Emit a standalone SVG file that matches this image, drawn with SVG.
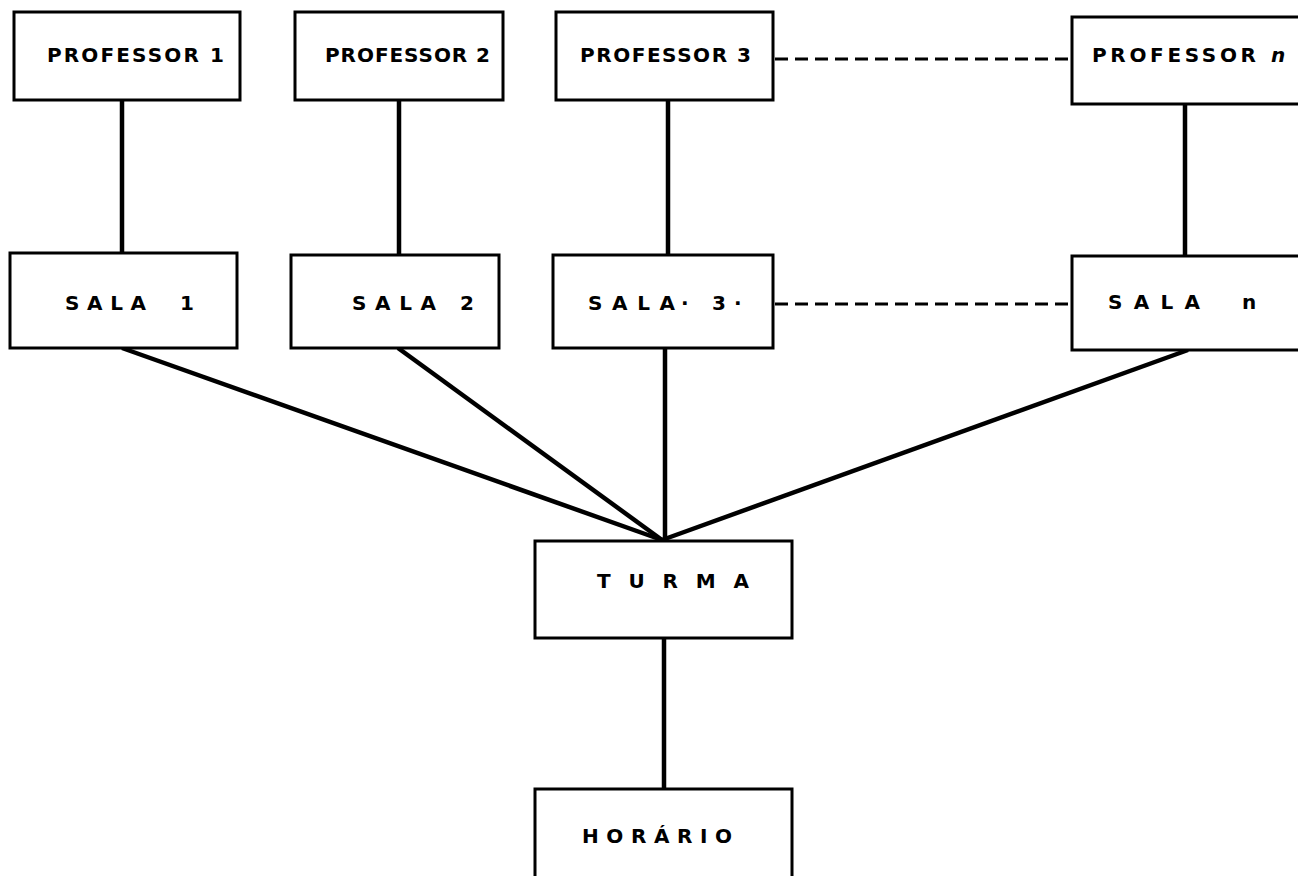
<svg xmlns="http://www.w3.org/2000/svg" width="1298" height="876" viewBox="0 0 1298 876">
<style>
.box{fill:#fff;stroke:#000;stroke-width:3}
.t{font-family:"DejaVu Sans","Liberation Sans",Arial,sans-serif;font-weight:bold;font-size:20px;fill:#000}
.c{stroke:#000;stroke-width:4.5;fill:none}
.d{stroke:#000;stroke-width:3;stroke-dasharray:13 7;fill:none}
</style>
<rect width="1298" height="876" fill="#fff"/>
<g id="connectors">
<line class="c" x1="122" y1="100" x2="122" y2="253"/>
<line class="c" x1="399" y1="100" x2="399" y2="255"/>
<line class="c" x1="668" y1="100" x2="668" y2="255"/>
<line class="c" x1="1185" y1="104" x2="1185" y2="256"/>
<line class="c" x1="122" y1="348" x2="662" y2="540"/>
<line class="c" x1="398" y1="348" x2="662" y2="540"/>
<line class="c" x1="665" y1="348" x2="665" y2="540"/>
<line class="c" x1="1188" y1="350" x2="662" y2="540"/>
<line class="c" x1="664" y1="638" x2="664" y2="789"/>
<line class="d" x1="775" y1="59" x2="1072" y2="59"/>
<line class="d" x1="775" y1="304" x2="1072" y2="304"/>
</g>
<g id="prof1"><rect class="box" x="14" y="12" width="226" height="88"/><text class="t" x="47" y="62" textLength="177" lengthAdjust="spacing">PROFESSOR 1</text></g>
<g id="prof2"><rect class="box" x="295" y="12" width="208" height="88"/><text class="t" x="325" y="62" textLength="165" lengthAdjust="spacing">PROFESSOR 2</text></g>
<g id="prof3"><rect class="box" x="556" y="12" width="217" height="88"/><text class="t" x="580" y="62" textLength="171" lengthAdjust="spacing">PROFESSOR 3</text></g>
<g id="profn"><rect class="box" x="1072" y="17" width="240" height="87"/><text class="t" y="62"><tspan x="1092" textLength="164" lengthAdjust="spacing">PROFESSOR</tspan><tspan x="1271" font-style="italic">n</tspan></text></g>
<g id="sala1"><rect class="box" x="10" y="253" width="227" height="95"/><text class="t" y="310"><tspan x="65" textLength="81" lengthAdjust="spacing">SALA</tspan><tspan x="180">1</tspan></text></g>
<g id="sala2"><rect class="box" x="291" y="255" width="208" height="93"/><text class="t" y="310"><tspan x="352" textLength="84" lengthAdjust="spacing">SALA</tspan><tspan x="460">2</tspan></text></g>
<g id="sala3"><rect class="box" x="553" y="255" width="220" height="93"/><text class="t" y="310"><tspan x="588" textLength="87" lengthAdjust="spacing">SALA</tspan><tspan x="681">·</tspan><tspan x="712">3</tspan><tspan x="734">·</tspan></text></g>
<g id="salan"><rect class="box" x="1072" y="256" width="240" height="94"/><text class="t" y="309"><tspan x="1108" textLength="92" lengthAdjust="spacing">SALA</tspan><tspan x="1242">n</tspan></text></g>
<g id="turma"><rect class="box" x="535" y="541" width="257" height="97"/><text class="t" x="597" y="588" textLength="152" lengthAdjust="spacing">TURMA</text></g>
<g id="horario"><rect class="box" x="535" y="789" width="257" height="100"/><text class="t" x="582" y="843" textLength="150" lengthAdjust="spacing">HORÁRIO</text></g>
</svg>
